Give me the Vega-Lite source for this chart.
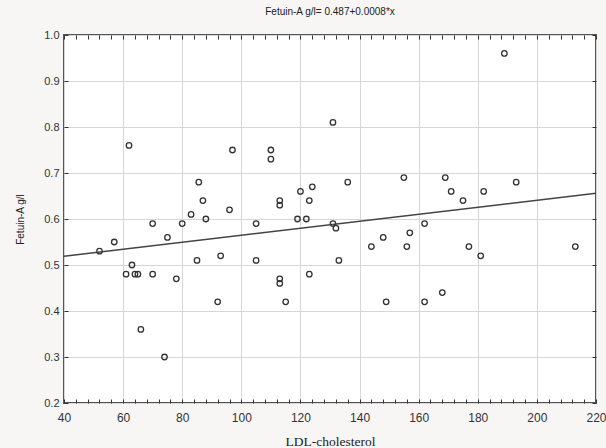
{
  "$schema": "https://vega.github.io/schema/vega-lite/v6.json",
  "autosize": "none",
  "width": 532,
  "height": 368,
  "padding": {"left": 64, "top": 35, "right": 10, "bottom": 45},
  "background": "#f7f6f4",
  "title": {"text": "Fetuin-A g/l= 0.487+0.0008*x", "font": "Liberation Sans", "fontSize": 10, "fontWeight": "normal", "color": "#222", "offset": 12, "anchor": "middle"},
  "config": {
    "view": {"fill": "white", "stroke": "#555", "strokeWidth": 2},
    "axis": {"labelFont": "Liberation Sans", "labelFontSize": 11, "labelColor": "#333", "gridColor": "#d6d6d6", "gridWidth": 1, "tickColor": "#333", "domain": false, "titleColor": "#222"}
  },
  "datasets": {
    "pts": [
      {"ldl": 52, "fet": 0.53}, {"ldl": 57, "fet": 0.55}, {"ldl": 62, "fet": 0.76}, {"ldl": 61, "fet": 0.48},
      {"ldl": 63, "fet": 0.50}, {"ldl": 64, "fet": 0.48}, {"ldl": 65, "fet": 0.48}, {"ldl": 66, "fet": 0.36},
      {"ldl": 70, "fet": 0.59}, {"ldl": 70, "fet": 0.48}, {"ldl": 74, "fet": 0.30}, {"ldl": 75, "fet": 0.56},
      {"ldl": 78, "fet": 0.47}, {"ldl": 80, "fet": 0.59}, {"ldl": 83, "fet": 0.61}, {"ldl": 85.6, "fet": 0.68},
      {"ldl": 85, "fet": 0.51}, {"ldl": 87, "fet": 0.64}, {"ldl": 88, "fet": 0.60}, {"ldl": 92, "fet": 0.42},
      {"ldl": 93, "fet": 0.52}, {"ldl": 96, "fet": 0.62}, {"ldl": 97, "fet": 0.75}, {"ldl": 105, "fet": 0.59},
      {"ldl": 105, "fet": 0.51}, {"ldl": 110, "fet": 0.75}, {"ldl": 110, "fet": 0.73}, {"ldl": 113, "fet": 0.64},
      {"ldl": 113, "fet": 0.63}, {"ldl": 113, "fet": 0.47}, {"ldl": 113, "fet": 0.46}, {"ldl": 115, "fet": 0.42},
      {"ldl": 119, "fet": 0.60}, {"ldl": 120, "fet": 0.66}, {"ldl": 122, "fet": 0.60}, {"ldl": 123, "fet": 0.64},
      {"ldl": 124, "fet": 0.67}, {"ldl": 123, "fet": 0.48}, {"ldl": 131, "fet": 0.81}, {"ldl": 131, "fet": 0.59},
      {"ldl": 132, "fet": 0.58}, {"ldl": 133, "fet": 0.51}, {"ldl": 136, "fet": 0.68}, {"ldl": 144, "fet": 0.54},
      {"ldl": 148, "fet": 0.56}, {"ldl": 149, "fet": 0.42}, {"ldl": 155, "fet": 0.69}, {"ldl": 156, "fet": 0.54},
      {"ldl": 157, "fet": 0.57}, {"ldl": 162, "fet": 0.59}, {"ldl": 162, "fet": 0.42}, {"ldl": 168, "fet": 0.44},
      {"ldl": 169, "fet": 0.69}, {"ldl": 171, "fet": 0.66}, {"ldl": 175, "fet": 0.64}, {"ldl": 177, "fet": 0.54},
      {"ldl": 181, "fet": 0.52}, {"ldl": 182, "fet": 0.66}, {"ldl": 189, "fet": 0.96}, {"ldl": 193, "fet": 0.68},
      {"ldl": 213, "fet": 0.54}
    ],
    "fit": [{"ldl": 40, "fet": 0.519}, {"ldl": 220, "fet": 0.656}]
  },
  "resolve": {"axis": {"x": "independent", "y": "independent"}},
  "layer": [
    {
      "data": {"name": "pts"},
      "mark": {"type": "point", "shape": "circle", "filled": false, "size": 30, "stroke": "#333", "strokeWidth": 1.3, "opacity": 1},
      "encoding": {
        "x": {"field": "ldl", "type": "quantitative", "scale": {"domain": [40, 220], "nice": false, "zero": false},
          "axis": {"orient": "bottom", "values": [40,44,48,52,56,60,64,68,72,76,80,84,88,92,96,100,104,108,112,116,120,124,128,132,136,140,144,148,152,156,160,164,168,172,176,180,184,188,192,196,200,204,208,212,216,220],
            "labelExpr": "datum.value % 20 === 0 ? datum.label : ''", "labelOverlap": false, "labelFlush": false, "labelFontSize": 12,
            "gridOpacity": {"condition": {"test": "datum.value % 20 === 0", "value": 1}, "value": 0},
            "tickSize": -4, "labelPadding": 13,
            "title": "LDL-cholesterol", "titleFont": "Liberation Serif", "titleFontSize": 13.5, "titleFontWeight": "normal", "titleY": 42, "titleBaseline": "alphabetic"}},
        "y": {"field": "fet", "type": "quantitative", "scale": {"domain": [0.2, 1.0], "nice": false, "zero": false},
          "axis": {"orient": "left", "values": [0.2,0.3,0.4,0.5,0.6,0.7,0.8,0.9,1.0], "format": ".1f", "tickSize": -4, "labelPadding": 9, "labelFlush": false,
            "title": "Fetuin-A g/l", "titleFont": "Liberation Sans", "titleFontSize": 10, "titleFontWeight": "normal", "titleX": -44, "titleY": 184, "titleAngle": -90, "titleAlign": "center", "titleBaseline": "middle"}}
      }
    },
    {
      "data": {"name": "fit"},
      "mark": {"type": "line", "color": "#444", "strokeWidth": 1.5},
      "encoding": {
        "x": {"field": "ldl", "type": "quantitative", "scale": {"domain": [40, 220], "nice": false, "zero": false},
          "axis": {"orient": "top", "values": [40,44,48,52,56,60,64,68,72,76,80,84,88,92,96,100,104,108,112,116,120,124,128,132,136,140,144,148,152,156,160,164,168,172,176,180,184,188,192,196,200,204,208,212,216,220],
            "labels": false, "grid": false, "tickSize": -4, "title": null}},
        "y": {"field": "fet", "type": "quantitative", "scale": {"domain": [0.2, 1.0], "nice": false, "zero": false},
          "axis": {"orient": "right", "values": [0.2,0.3,0.4,0.5,0.6,0.7,0.8,0.9,1.0], "labels": false, "grid": false, "tickSize": -4, "title": null}}
      }
    }
  ]
}
